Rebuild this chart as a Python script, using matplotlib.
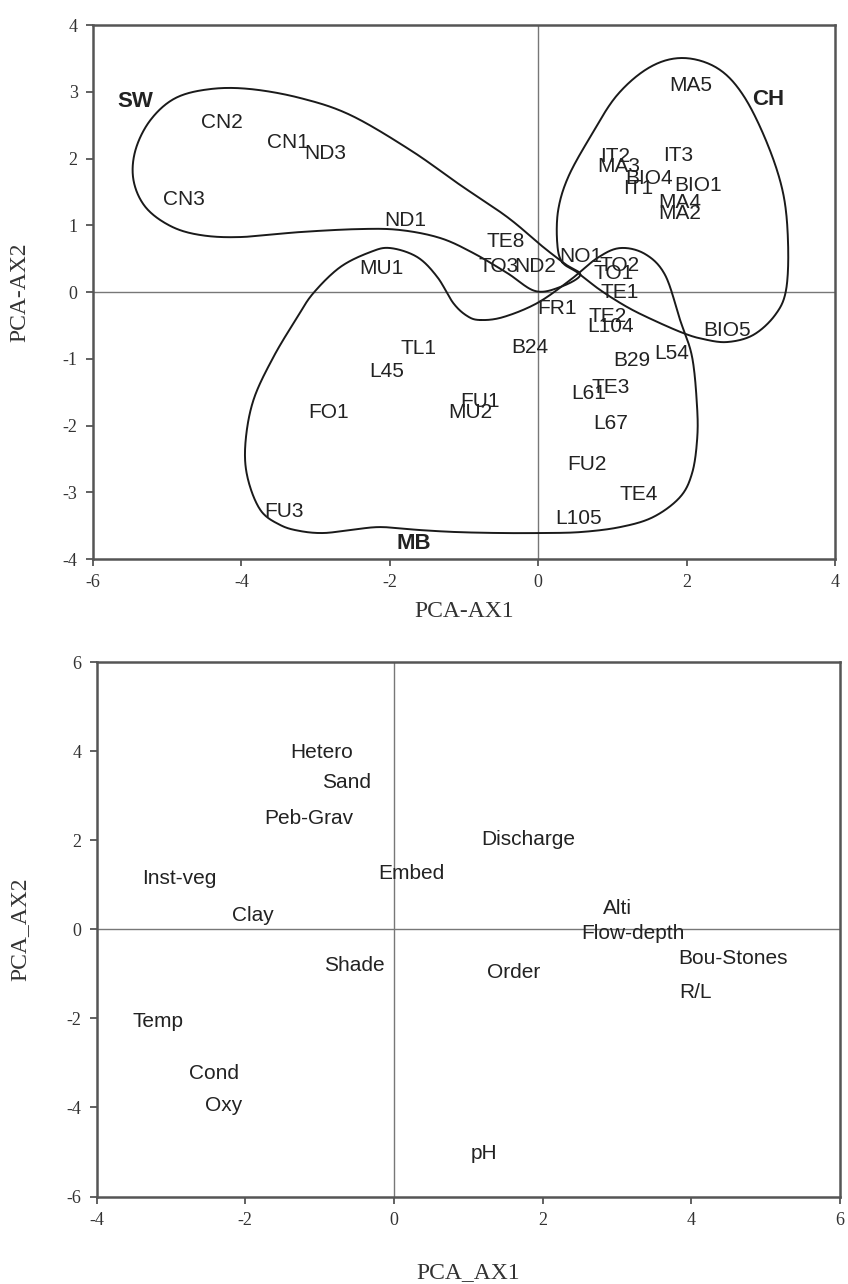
import numpy as np
import matplotlib
matplotlib.use("Agg")
import matplotlib.pyplot as plt

# --- sites (top panel) ---
site_names = ["CN2", "CN1", "ND3", "CN3", "ND1", "MU1", "TE8", "TO3", "ND2",
              "NO1", "TO2", "TO1", "TE1", "FR1", "TE2", "L104", "BIO5", "B24",
              "B29", "L54", "TE3", "L61", "L67", "FU2", "TE4", "L105", "TL1",
              "L45", "FO1", "FU1", "MU2", "FU3", "MA5", "IT2", "MA3", "IT3",
              "BIO4", "IT1", "BIO1", "MA4", "MA2"]
site_ax1 = [-4.27, -3.37, -2.87, -4.78, -1.79, -2.12, -0.44, -0.54, -0.04,
            0.57, 1.10, 1.01, 1.10, 0.25, 0.93, 0.97, 2.54, -0.11,
            1.26, 1.80, 0.97, 0.68, 0.97, 0.66, 1.35, 0.54, -1.61,
            -2.04, -2.82, -0.78, -0.92, -3.43, 2.05, 1.04, 1.08, 1.89,
            1.49, 1.35, 2.16, 1.91, 1.90]
site_ax2 = [2.54, 2.24, 2.08, 1.39, 1.07, 0.36, 0.75, 0.38, 0.38,
            0.53, 0.40, 0.28, -0.01, -0.24, -0.37, -0.52, -0.58, -0.83,
            -1.02, -0.92, -1.43, -1.52, -1.97, -2.58, -3.04, -3.39, -0.84,
            -1.19, -1.81, -1.64, -1.81, -3.29, 3.10, 2.03, 1.88, 2.05,
            1.70, 1.55, 1.60, 1.34, 1.18]

group_names = ["SW", "CH", "MB"]
group_ax1 = [-5.43, 3.10, -1.68]
group_ax2 = [2.85, 2.88, -3.77]

# hand-drawn group outlines (vertices, smoothed below)
sw_x = [0.566, 0.296, -0.040, -0.418, -0.875, -1.320, -1.859, -2.397, -3.205,
        -4.013, -4.552, -4.956, -5.293, -5.455, -5.428, -5.226, -4.889, -4.418,
        -3.879, -3.205, -2.532, -1.724, -1.051, -0.418, 0.067, 0.364]
sw_y = [0.255, 0.075, 0.015, 0.285, 0.584, 0.809, 0.929, 0.944, 0.899,
        0.824, 0.854, 0.989, 1.273, 1.678, 2.127, 2.577, 2.906, 3.041,
        3.041, 2.906, 2.652, 2.127, 1.603, 1.124, 0.674, 0.419]
ch_x = [0.323, 0.256, 0.269, 0.404, 0.700, 1.064, 1.508, 1.953, 2.411, 2.761,
        3.084, 3.300, 3.367, 3.340, 3.192, 2.896, 2.545, 2.222, 1.953, 1.549,
        1.199, 0.835, 0.539]
ch_y = [0.449, 0.734, 1.228, 1.723, 2.322, 2.951, 3.371, 3.506, 3.356, 2.951,
        2.232, 1.483, 0.734, 0.030, -0.345, -0.644, -0.749, -0.704, -0.614,
        -0.419, -0.225, 0.030, 0.285]
mb_x = [-0.781, -0.471, -0.013, 0.431, 0.795, 1.104, 1.441, 1.710, 1.912,
        2.074, 2.141, 2.141, 2.074, 1.912, 1.549, 1.104, 0.566, 0.027, -0.512,
        -1.091, -1.589, -2.128, -2.532, -2.896, -3.205, -3.475, -3.744, -3.919,
        -3.946, -3.838, -3.569, -3.246, -3.030, -2.667, -2.263, -1.993, -1.630,
        -1.360, -1.145, -0.956]
mb_y = [-0.419, -0.375, -0.165, 0.180, 0.509, 0.659, 0.569, 0.255, -0.419,
        -0.974, -1.723, -2.217, -2.712, -3.071, -3.371, -3.521, -3.596, -3.610,
        -3.610, -3.596, -3.566, -3.521, -3.566, -3.610, -3.581, -3.491, -3.266,
        -2.772, -2.262, -1.618, -0.974, -0.375, -0.015, 0.375, 0.599, 0.659,
        0.524, 0.225, -0.165, -0.360]

# --- variables (bottom panel) ---
var_names = ["Hetero", "Sand", "Peb-Grav", "Inst-veg", "Clay", "Embed",
             "Discharge", "Alti", "Flow-depth", "Bou-Stones", "R/L", "Shade",
             "Order", "Temp", "Cond", "Oxy", "pH"]
var_ax1 = [-0.97, -0.64, -1.15, -2.88, -1.90, 0.24,
           1.81, 3.00, 3.22, 4.56, 4.05, -0.53,
           1.61, -3.17, -2.42, -2.29, 1.21]
var_ax2 = [3.98, 3.29, 2.49, 1.14, 0.31, 1.25,
           2.02, 0.47, -0.10, -0.66, -1.41, -0.81,
           -0.98, -2.08, -3.24, -3.96, -5.04]

SERIF = "Liberation Serif"
SANS = "Liberation Sans"

plt.rcParams['axes.unicode_minus'] = False


def closed_curve(xs, ys, n=24):
    """Closed Catmull-Rom spline through the outline vertices."""
    pts = np.column_stack([xs, ys])
    p = np.vstack([pts[-1], pts, pts[0], pts[1]])
    t = np.linspace(0, 1, n, endpoint=False)[:, None]
    segs = []
    for i in range(1, len(pts) + 1):
        p0, p1, p2, p3 = p[i - 1], p[i], p[i + 1], p[i + 2]
        segs.append(0.5 * (2 * p1 + (-p0 + p2) * t
                           + (2 * p0 - 5 * p1 + 4 * p2 - p3) * t ** 2
                           + (-p0 + 3 * p1 - 3 * p2 + p3) * t ** 3))
    segs.append(pts[:1])
    out = np.vstack(segs)
    return out[:, 0], out[:, 1]


def style_axes(ax, xlim, ylim, xticks, yticks):
    ax.set_xlim(*xlim)
    ax.set_ylim(*ylim)
    ax.set_xticks(xticks)
    ax.set_yticks(yticks)
    ax.axhline(0, color="#777777", lw=1.0, zorder=1)
    ax.axvline(0, color="#777777", lw=1.0, zorder=1)
    for s in ax.spines.values():
        s.set_color("#555555")
        s.set_linewidth(1.8)
    ax.tick_params(direction="out", length=5, width=1.3, color="#555555",
                   labelsize=13, pad=6, labelcolor="#333333")
    for lab in ax.get_xticklabels() + ax.get_yticklabels():
        lab.set_fontfamily(SERIF)


def main():
    fig = plt.figure(figsize=(8.48, 12.84), dpi=100)

    # top: sites with group outlines
    ax1 = fig.add_axes([0.1097, 0.5646, 0.875, 0.4159])
    style_axes(ax1, (-6, 4), (-4, 4), range(-6, 5, 2), range(-4, 5))
    for gx, gy in [(sw_x, sw_y), (ch_x, ch_y), (mb_x, mb_y)]:
        cx, cy = closed_curve(gx, gy)
        ax1.plot(cx, cy, color="#1a1a1a", lw=1.4, zorder=2)
    for name, x, y in zip(site_names, site_ax1, site_ax2):
        ax1.text(x, y, name, ha="center", va="center", fontsize=15,
                 family=SANS, color="#222222", zorder=3)
    for name, x, y in zip(group_names, group_ax1, group_ax2):
        ax1.text(x, y, name, ha="center", va="center", fontsize=16,
                 family=SANS, fontweight="bold", color="#222222", zorder=3)
    ax1.set_xlabel("PCA-AX1", fontsize=17, family=SERIF, color="#333333",
                   va="center")
    ax1.set_ylabel("PCA-AX2", fontsize=17, family=SERIF, color="#333333",
                   va="center")
    ax1.xaxis.set_label_coords(0.5, -0.099)
    ax1.yaxis.set_label_coords(-0.098, 0.5)

    # bottom: environmental variables
    ax2 = fig.add_axes([0.1138, 0.0681, 0.8768, 0.4163])
    style_axes(ax2, (-4, 6), (-6, 6), range(-4, 7, 2), range(-6, 7, 2))
    for name, x, y in zip(var_names, var_ax1, var_ax2):
        ax2.text(x, y, name, ha="center", va="center", fontsize=15,
                 family=SANS, color="#222222", zorder=3)
    ax2.set_xlabel("PCA_AX1", fontsize=17, family=SERIF, color="#333333",
                   va="center")
    ax2.set_ylabel("PCA_AX2", fontsize=17, family=SERIF, color="#333333",
                   va="center")
    ax2.xaxis.set_label_coords(0.5, -0.143)
    ax2.yaxis.set_label_coords(-0.103, 0.5)

    fig.savefig("out.png", dpi=100)


if __name__ == '__main__':
    main()
